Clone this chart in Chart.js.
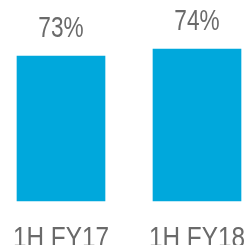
<!DOCTYPE html>
<html>
<head>
<meta charset="utf-8">
<script src="https://cdn.jsdelivr.net/npm/chart.js@4/dist/chart.umd.min.js"></script>
<style>
html,body{margin:0;padding:0;background:#fff;}
#wrap{width:246px;height:245px;position:relative;}
</style>
</head>
<body>
<div id="wrap"><canvas id="c" width="246" height="245"></canvas></div>
<script>
const categories = ["1H FY17", "1H FY18"];
const values = [73, 74];
const valueLabels = ["73%", "74%"];
const axisMin = 52.29;
const axisMax = 81;

const FONT = "'Liberation Sans', Arial, sans-serif";
const TEXT = "#6a6a6a";

function drawSquished(ctx, text, x, y, sx) {
  ctx.save();
  ctx.translate(x, y);
  ctx.scale(sx, 1);
  ctx.fillText(text, 0, 0);
  ctx.restore();
}

const labelPlugin = {
  id: 'labels',
  afterDatasetsDraw(chart) {
    const ctx = chart.ctx;
    const meta = chart.getDatasetMeta(0);
    const xs = chart.scales.x;
    ctx.save();
    ctx.font = "29px " + FONT;
    ctx.fillStyle = TEXT;
    ctx.textAlign = 'center';
    ctx.textBaseline = 'alphabetic';
    meta.data.forEach((bar, i) => {
      drawSquished(ctx, valueLabels[i], bar.x, bar.y - 19, 0.78);
    });
    xs.ticks.forEach((t, i) => {
      drawSquished(ctx, xs.getLabelForValue(t.value), xs.getPixelForTick(i), chart.chartArea.bottom + 46, 0.84);
    });
    ctx.restore();
  }
};

new Chart(document.getElementById('c'), {
  type: 'bar',
  data: {
    labels: categories,
    datasets: [{
      data: values,
      base: axisMin,
      backgroundColor: '#00a8dc',
      borderWidth: 0,
      barThickness: 88,
      clip: false
    }]
  },
  options: {
    responsive: false,
    animation: false,
    devicePixelRatio: 1,
    layout: { padding: { left: 61, right: 49, top: 0, bottom: 0 } },
    plugins: { legend: { display: false }, tooltip: { enabled: false } },
    scales: {
      x: {
        offset: false,
        grid: { display: false, drawTicks: false },
        border: { display: false },
        ticks: { display: false, autoSkip: false },
        afterFit(scale) { scale.height = 44; scale.paddingLeft = 0; scale.paddingRight = 0; }
      },
      y: {
        display: false,
        beginAtZero: false,
        min: axisMin,
        max: axisMax
      }
    }
  },
  plugins: [labelPlugin]
});
</script>
</body>
</html>
